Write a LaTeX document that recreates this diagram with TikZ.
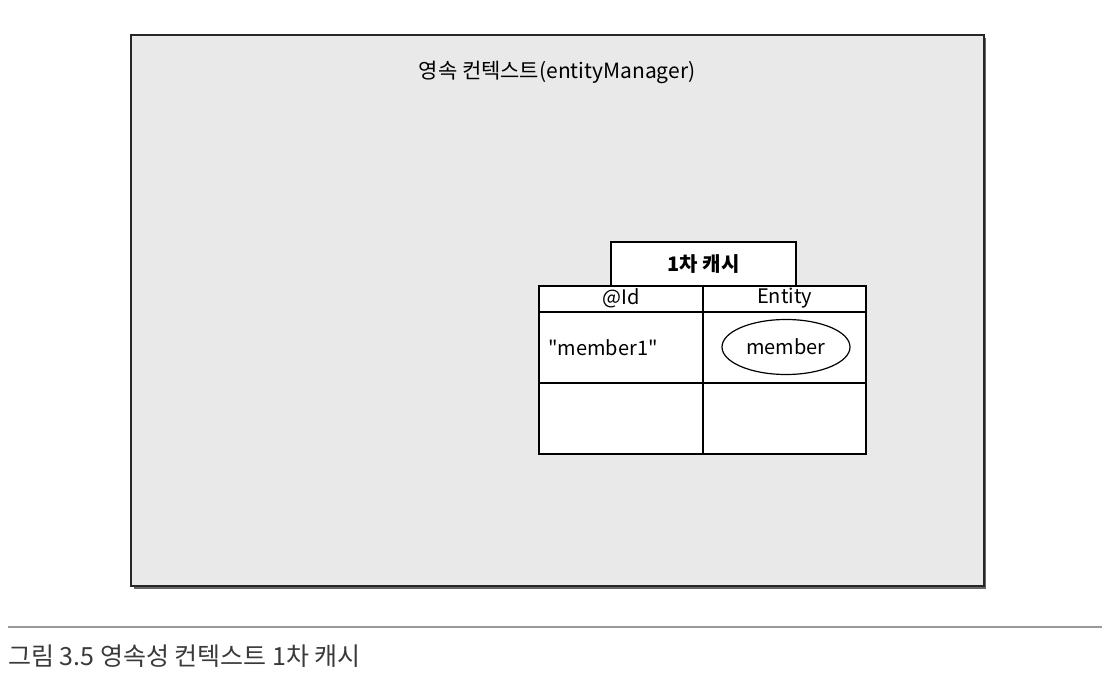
\documentclass[tikz,border=0pt]{standalone}
\usepackage{fontspec}
\setmainfont{Noto Sans CJK KR}
\newfontfamily\kr{Noto Sans CJK KR}
\usetikzlibrary{shapes.geometric}
\definecolor{boxgray}{HTML}{E9E9E9}
\definecolor{captgray}{HTML}{3A3A3A}
\begin{document}
\begin{tikzpicture}[x=1pt,y=-1pt,
  cell/.style={draw=black,line width=1.3pt,fill=white},
  celltext/.style={font=\kr\fontsize{20}{22}\selectfont,inner sep=0pt},
]
\useasboundingbox[fill=white] (0,0) rectangle (1116,674);
% outer context box
\fill[black!60] (134,38) rectangle (986,589);
\draw[draw=black!85,line width=1.4pt,fill=boxgray] (131,35) rectangle (984,586);
\node[font=\kr\fontsize{21}{23}\selectfont,inner sep=0pt] (title) at (557,72) {영속 컨텍스트(entityManager)};
% cache label box
\draw[cell] (611,242) rectangle (796,286);
\node[font=\kr\bfseries\fontsize{20}{22}\selectfont,inner sep=0pt] (cache) at (703.5,264) {1차 캐시};
% table
\draw[cell] (539,286) rectangle (866,454);
\draw[cell] (539,286) rectangle (866,312);
\draw[line width=1.3pt] (539,383) -- (866,383);
\draw[line width=1.3pt] (703,286) -- (703,454);
\node[celltext] (idh) at (621,298) {@Id};
\node[celltext] (enth) at (784.5,298) {Entity};
\node[celltext,anchor=west] (key) at (548,348) {"member1"};
\node[draw=black,line width=1.2pt,ellipse,minimum width=128pt,minimum height=55pt,inner sep=0pt,celltext] (member) at (786,347) {member};
% caption
\draw[line width=1.6pt,black!40] (8,627) -- (1102,627);
\node[anchor=west,inner sep=0pt,text=captgray,font=\kr\fontsize{25}{27}\selectfont] (caption) at (8,656) {그림 3.5 영속성 컨텍스트 1차 캐시};
\end{tikzpicture}
\end{document}
